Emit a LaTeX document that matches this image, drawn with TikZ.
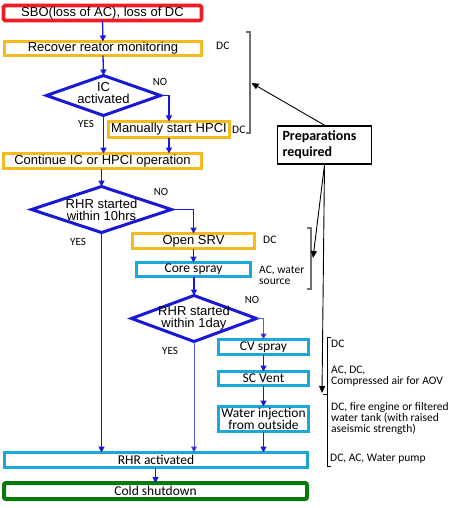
\documentclass[tikz,border=0pt]{standalone}
\usepackage{fontspec}
\setmainfont{Liberation Sans}
\newfontfamily\calib{Carlito}
\usetikzlibrary{shapes.geometric,arrows.meta}
\definecolor{cred}{HTML}{EE1C25}
\definecolor{corange}{HTML}{F5BA1E}
\definecolor{ccyan}{HTML}{1BA6DC}
\definecolor{cgreen}{HTML}{0A7A0A}
\definecolor{cblue}{HTML}{1818D6}
\definecolor{cthin}{HTML}{5A5AE0}
\definecolor{cgray}{HTML}{707070}
\begin{document}
\begin{tikzpicture}[x=1pt,y=-1pt,
  box/.style={rectangle,draw,inner sep=0pt,outer sep=0pt,align=center},
  obox/.style={box,draw=corange,line width=3pt,font=\fontsize{13}{12}\selectfont},
  cbox/.style={box,draw=ccyan,line width=2.6pt,font=\calib\fontsize{13.5}{12.5}\selectfont},
  dia/.style={diamond,draw=cblue,line width=3pt,inner sep=0pt,outer sep=0pt},
  dtext/.style={inner sep=0pt,align=center,font=\fontsize{13}{12}\selectfont},
  conn/.style={draw=cblue,line width=1.3pt,-{Triangle[length=6pt,width=6pt]}},
  thin/.style={draw=cthin,line width=0.9pt,-{Triangle[length=6pt,width=6pt,fill=cblue]}},
  yn/.style={font=\calib\fontsize{11}{11}\selectfont,inner sep=0pt},
  lab/.style={font=\calib\fontsize{11.5}{11}\selectfont,inner sep=0pt,anchor=west,align=left},
  pref/.style={draw=black,line width=0.9pt,-{Triangle[length=7pt,width=6pt]}},
  brk/.style={draw=cgray,line width=1.3pt}
]
\useasboundingbox (0,0) rectangle (464,508);

% boxes
\node[box,draw=cred,line width=3.6pt,rounded corners=1.5pt,minimum width=198pt,minimum height=15pt,
  font=\fontsize{13}{12}\selectfont] (sbo) at (102.5,13) {SBO(loss of AC), loss of DC};
\node[obox,minimum width=197pt,minimum height=14pt] (rec) at (103,48.5) {Recover reator monitoring};
\node[dia,minimum width=114pt,minimum height=40pt] (d1) at (103.5,95.5) {};
\node[dtext] (t1) at (103.5,93.5) {IC\\activated};
\node[obox,minimum width=121pt,minimum height=16pt] (man) at (169,129.5) {Manually start HPCI};
\node[obox,minimum width=198pt,minimum height=15pt] (cont) at (102.5,161) {Continue IC or HPCI operation};
\node[dia,minimum width=140pt,minimum height=46pt] (d2) at (101.5,209.5) {};
\node[dtext] (t2) at (101.5,209.5) {RHR started\\within 10hrs};
\node[obox,minimum width=122pt,minimum height=15pt] (srv) at (193.5,241) {Open SRV};
\node[cbox,minimum width=114pt,minimum height=14pt] (core) at (193.5,269.5) {Core spray};
\node[dia,minimum width=125pt,minimum height=46pt] (d3) at (194,318.5) {};
\node[dtext] (t3) at (194,318) {RHR started\\within 1day};
\node[cbox,minimum width=90pt,minimum height=15pt] (cv) at (263.5,347) {CV spray};
\node[cbox,minimum width=90pt,minimum height=14pt] (sc) at (263.5,378.5) {SC Vent};
\node[cbox,minimum width=90pt,minimum height=25pt] (wat) at (263.5,419) {Water injection\\from outside};
\node[cbox,minimum width=303pt,minimum height=15pt] (rhr) at (156,460) {RHR activated};
\node[box,draw=cgreen,line width=4pt,rounded corners=2pt,minimum width=303pt,minimum height=16pt,
  font=\calib\fontsize{13.5}{12.5}\selectfont] (cold) at (155.5,491) {Cold shutdown};

% connectors
\draw[conn] (sbo.south) -- (rec.north);
\draw[conn] (rec.south) -- (d1.north);
\draw[conn] (d1.east) -| (man.north);
\draw[conn] (d1.south) -- (cont.north -| d1.south);
\draw[conn] (man.south) -- (cont.north -| man.south);
\draw[conn] (cont.south -| d2.north) -- (d2.north);
\draw[conn] (d2.east) -| (srv.north);
\draw[conn] (srv.south) -- (core.north -| srv.south);
\draw[conn] (core.south -| d3.north) -- (d3.north);
\draw[thin] (d3.east) -| (cv.north);
\draw[thin] (d3.south) -- (rhr.north -| d3.south);
\draw[conn] (d2.south) -- (rhr.north -| d2.south);
\draw[conn] (cv.south) -- (sc.north);
\draw[conn] (sc.south) -- (wat.north);
\draw[conn] (wat.south) -- (rhr.north -| wat.south);
\draw[conn] (rhr.south -| cold.north) -- (cold.north);

% yes / no
\node[yn] (no1) at (160,82) {NO};
\node[yn] (yes1) at (86,124) {YES};
\node[yn] (no2) at (161,192) {NO};
\node[yn] (yes2) at (78,242) {YES};
\node[yn] (no3) at (252,300) {NO};
\node[yn] (yes3) at (170,351) {YES};

% resource labels
\node[lab] (l1) at (216,46) {DC};
\node[lab] (l2) at (232,130) {DC};
\node[lab] (l3) at (263,240) {DC};
\node[lab] (l4) at (259,275) {AC, water\\source};
\node[lab] (l5) at (331,344) {DC};
\node[lab] (l6) at (331,376.5) {AC, DC,\\Compressed air for AOV};
\node[lab] (l7) at (331,418.5) {DC, fire engine or filtered\\water tank (with raised\\aseismic strength)};
\node[lab] (l8) at (330,459) {DC, AC, Water pump};

% brackets
\draw[brk] (246,32) -- (250,32) -- (250,133) -- (246,133);
\draw[brk] (307,228) -- (311,228) -- (311,289) -- (307,289);
\draw[draw=black,line width=1pt] (331,337) -- (327,337) -- (327,466) -- (331,466);
\draw[draw=black,line width=1pt] (323,394) -- (327,394);
\coordinate (b1) at (251.5,83);
\coordinate (b2) at (313,258);
\coordinate (b3) at (322,393);

% preparations
\node[draw=black,line width=1.6pt,inner sep=0pt,minimum width=94pt,minimum height=38pt,align=left,
  text width=84pt,font=\calib\bfseries\fontsize{14}{16}\selectfont] (prep) at (324.5,145)
  {Preparations\\required};
\draw[pref] (prep.north) -- (b1);
\draw[pref] (prep.south) -- (b2);
\draw[pref] (prep.south) -- (b3);
\end{tikzpicture}
\end{document}
